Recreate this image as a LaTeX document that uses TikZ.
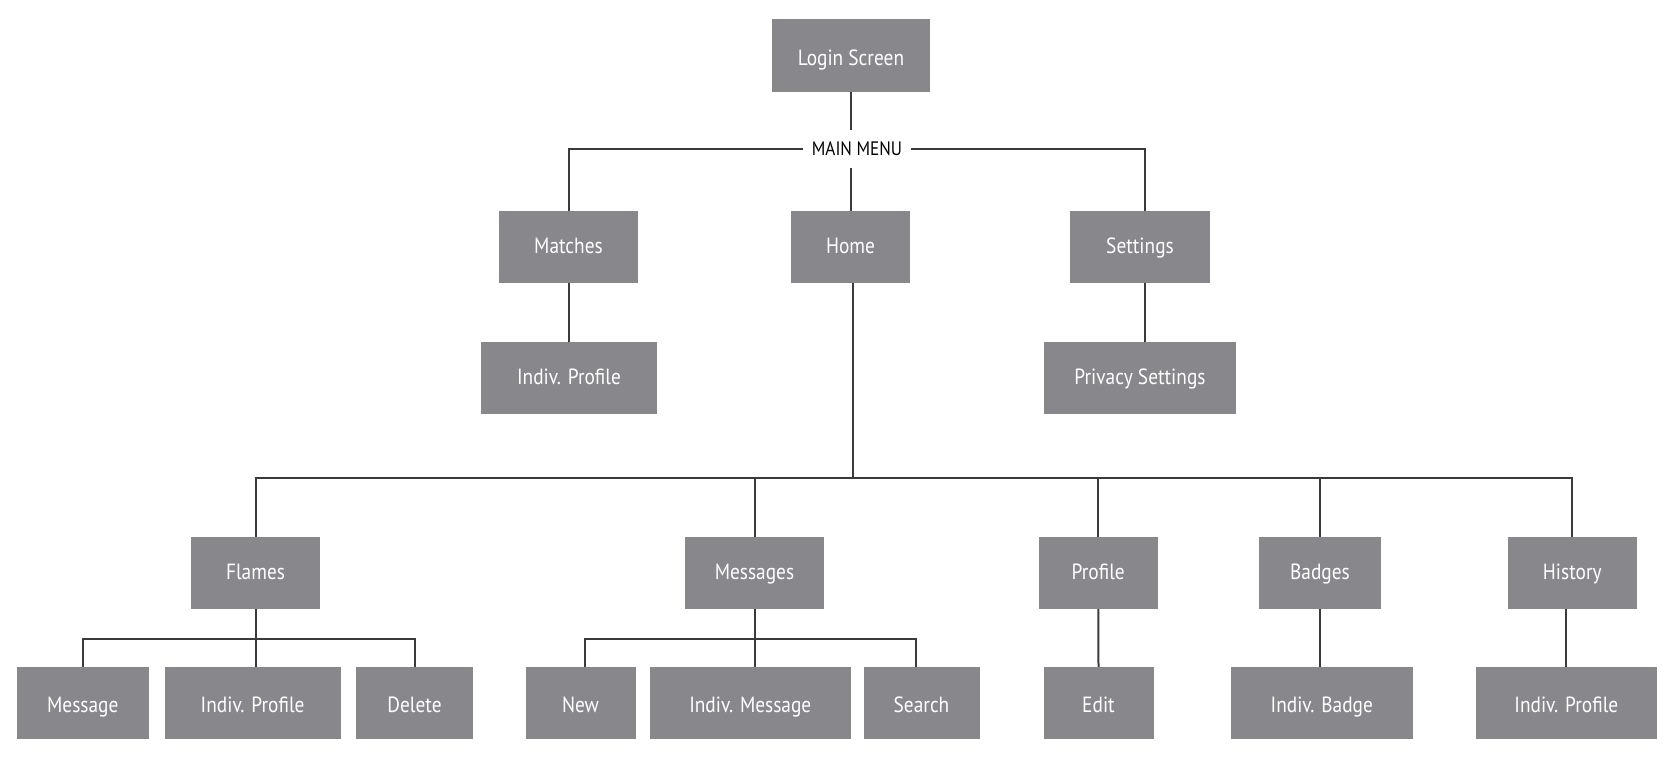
\documentclass[tikz,border=0pt]{standalone}
\usepackage{fontspec}
\setmainfont{PT Sans}[FakeStretch=0.88]
\definecolor{boxgray}{HTML}{88888C}
\definecolor{linegray}{HTML}{3A3A3A}
\tikzset{
  stepbox/.style={fill=boxgray, text=white, inner sep=0pt, font=\fontsize{22}{26}\selectfont, minimum height=72pt, text height=15.5pt, text depth=3pt},
  leafbox/.style={stepbox, text height=21pt},
  conn/.style={draw=linegray, line width=2pt},
  menulabel/.style={inner sep=0pt, minimum width=107pt, minimum height=37pt, font=\fontsize{19.5}{23}\selectfont, text=black}
}
\begin{document}
\begin{tikzpicture}[x=1pt,y=-1pt]
\useasboundingbox (0,0) rectangle (1670,761);
% nodes
\node[stepbox, minimum width=158pt, minimum height=73pt, text height=22pt] (login) at (851,55.5) {Login Screen};
\node[menulabel] (mm) at (857,149) {MAIN MENU};
\node[stepbox, minimum width=139pt] (matches) at (568.5,247) {Matches};
\node[stepbox, minimum width=119pt] (home) at (850.5,247) {Home};
\node[stepbox, minimum width=140pt] (settings) at (1140,247) {Settings};
\node[stepbox, minimum width=176pt] (mip) at (569,378) {Indiv. Profile};
\node[stepbox, minimum width=192pt] (privacy) at (1140,378) {Privacy Settings};
\node[stepbox, minimum width=129pt] (flames) at (255.5,573) {Flames};
\node[stepbox, minimum width=139pt] (messages) at (754.5,573) {Messages};
\node[stepbox, minimum width=119.5pt] (profile) at (1098.25,573) {Profile};
\node[stepbox, minimum width=122pt] (badges) at (1320,573) {Badges};
\node[stepbox, minimum width=129pt] (history) at (1572.25,573) {History};
\node[leafbox, minimum width=132.5pt] (fmsg) at (82.75,703) {Message};
\node[leafbox, minimum width=176pt] (fip) at (252.6,703) {Indiv. Profile};
\node[leafbox, minimum width=117pt] (fdel) at (414.5,703) {Delete};
\node[leafbox, minimum width=110pt] (new) at (580.5,703) {New};
\node[leafbox, minimum width=201.4pt] (imsg) at (750.3,703) {Indiv. Message};
\node[leafbox, minimum width=116pt] (search) at (921.5,703) {Search};
\node[leafbox, minimum width=110pt] (edit) at (1098.5,703) {Edit};
\node[leafbox, minimum width=182pt] (ibadge) at (1321.8,703) {Indiv. Badge};
\node[leafbox, minimum width=181.4pt] (hip) at (1566.3,703) {Indiv. Profile};
% connectors
\draw[conn] (login.south) -- (login.south |- mm.north);
\draw[conn] (mm.west) -| (matches.north);
\draw[conn] (mm.east) -| ([xshift=5pt]settings.north);
\draw[conn] (home.north) -- (home.north |- mm.south);
\draw[conn] (matches.south) -- (matches.south |- mip.north);
\draw[conn] ([xshift=5pt]settings.south) -- ([xshift=5pt]settings.south |- privacy.north);
\coordinate (hb) at (853,478);
\draw[conn] ([xshift=2.5pt]home.south) -- (hb);
\draw[conn] (flames.north) |- (hb) -| (history.north);
\draw[conn] (messages.north) -- (messages.north |- hb);
\draw[conn] (profile.north) -- (profile.north |- hb);
\draw[conn] (badges.north) -- (badges.north |- hb);
\coordinate (fb) at (256,639);
\draw[conn] (flames.south) -- (flames.south |- fip.north);
\draw[conn] (fmsg.north) |- (fb) -| (fdel.north);
\coordinate (mb) at (755,639);
\draw[conn] (messages.south) -- (messages.south |- imsg.north);
\draw[conn] ([xshift=4pt]new.north) |- (mb) -| ([xshift=-5.5pt]search.north);
\draw[conn] (profile.south) -- (edit.north);
\draw[conn] (badges.south) -- (badges.south |- ibadge.north);
\draw[conn] (hip.north) -- (hip.north |- history.south);
\end{tikzpicture}
\end{document}
